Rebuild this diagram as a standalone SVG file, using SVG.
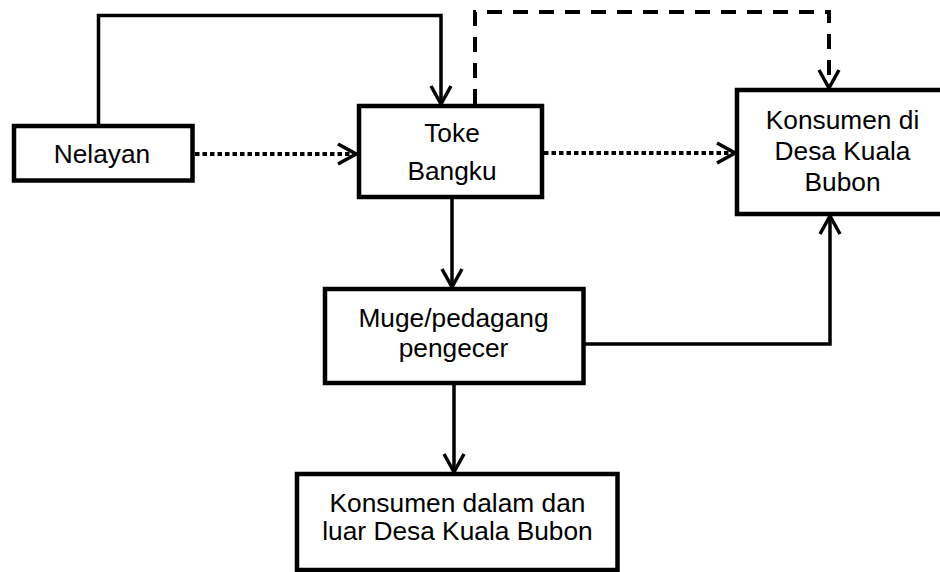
<svg xmlns="http://www.w3.org/2000/svg" width="940" height="572" viewBox="0 0 940 572">
<style>
.box{fill:#fff;stroke:#000;stroke-width:4.5}
.t{font-family:"Liberation Sans",Arial,sans-serif;font-size:26.3px;fill:#000;text-anchor:middle}
.c{fill:none;stroke:#000;stroke-width:3.5}
.dash{stroke-width:4;stroke-dasharray:15 11}
.dot{stroke-width:4;stroke-dasharray:4.5 3}
</style>
<defs>
<marker id="ah" viewBox="0 0 22 24" refX="20" refY="12" markerWidth="22" markerHeight="24" markerUnits="userSpaceOnUse" orient="auto">
<path d="M2,2 L20,12 L2,22" fill="none" stroke="#000" stroke-width="3.5"/>
</marker>
</defs>
<rect width="940" height="572" fill="#fff"/>
<g id="connectors">
<path class="c" d="M98.5,126 V15.5 H441 V104" marker-end="url(#ah)"/>
<path class="c dash" d="M475,104 V12 H829 V88" marker-end="url(#ah)"/>
<path class="c dot" d="M195,154 H356" marker-end="url(#ah)"/>
<path class="c dot" d="M544,153 H735" marker-end="url(#ah)"/>
<path class="c" d="M452,199 V287" marker-end="url(#ah)"/>
<path class="c" d="M585,344 H830 V216" marker-end="url(#ah)"/>
<path class="c" d="M454,385 V472" marker-end="url(#ah)"/>
</g>
<g id="nelayan">
<rect class="box" x="14" y="126" width="178.5" height="54.5"/>
<text class="t" x="102" y="162.5">Nelayan</text>
</g>
<g id="toke">
<rect class="box" x="359" y="106" width="183" height="91"/>
<text class="t" x="452" y="141.5">Toke</text>
<text class="t" x="452" y="180">Bangku</text>
</g>
<g id="konsumen-desa">
<rect class="box" x="737" y="90" width="210" height="124"/>
<text class="t" x="842.5" y="128.5">Konsumen di</text>
<text class="t" x="842.5" y="160">Desa Kuala</text>
<text class="t" x="842.5" y="190.5">Bubon</text>
</g>
<g id="muge">
<rect class="box" x="325" y="289" width="258.5" height="94"/>
<text class="t" x="453.5" y="326.5">Muge/pedagang</text>
<text class="t" x="453.5" y="356.5">pengecer</text>
</g>
<g id="konsumen-luar">
<rect class="box" x="297" y="474" width="320.5" height="96"/>
<text class="t" x="457.5" y="511.5">Konsumen dalam dan</text>
<text class="t" x="457.5" y="540">luar Desa Kuala Bubon</text>
</g>
</svg>
